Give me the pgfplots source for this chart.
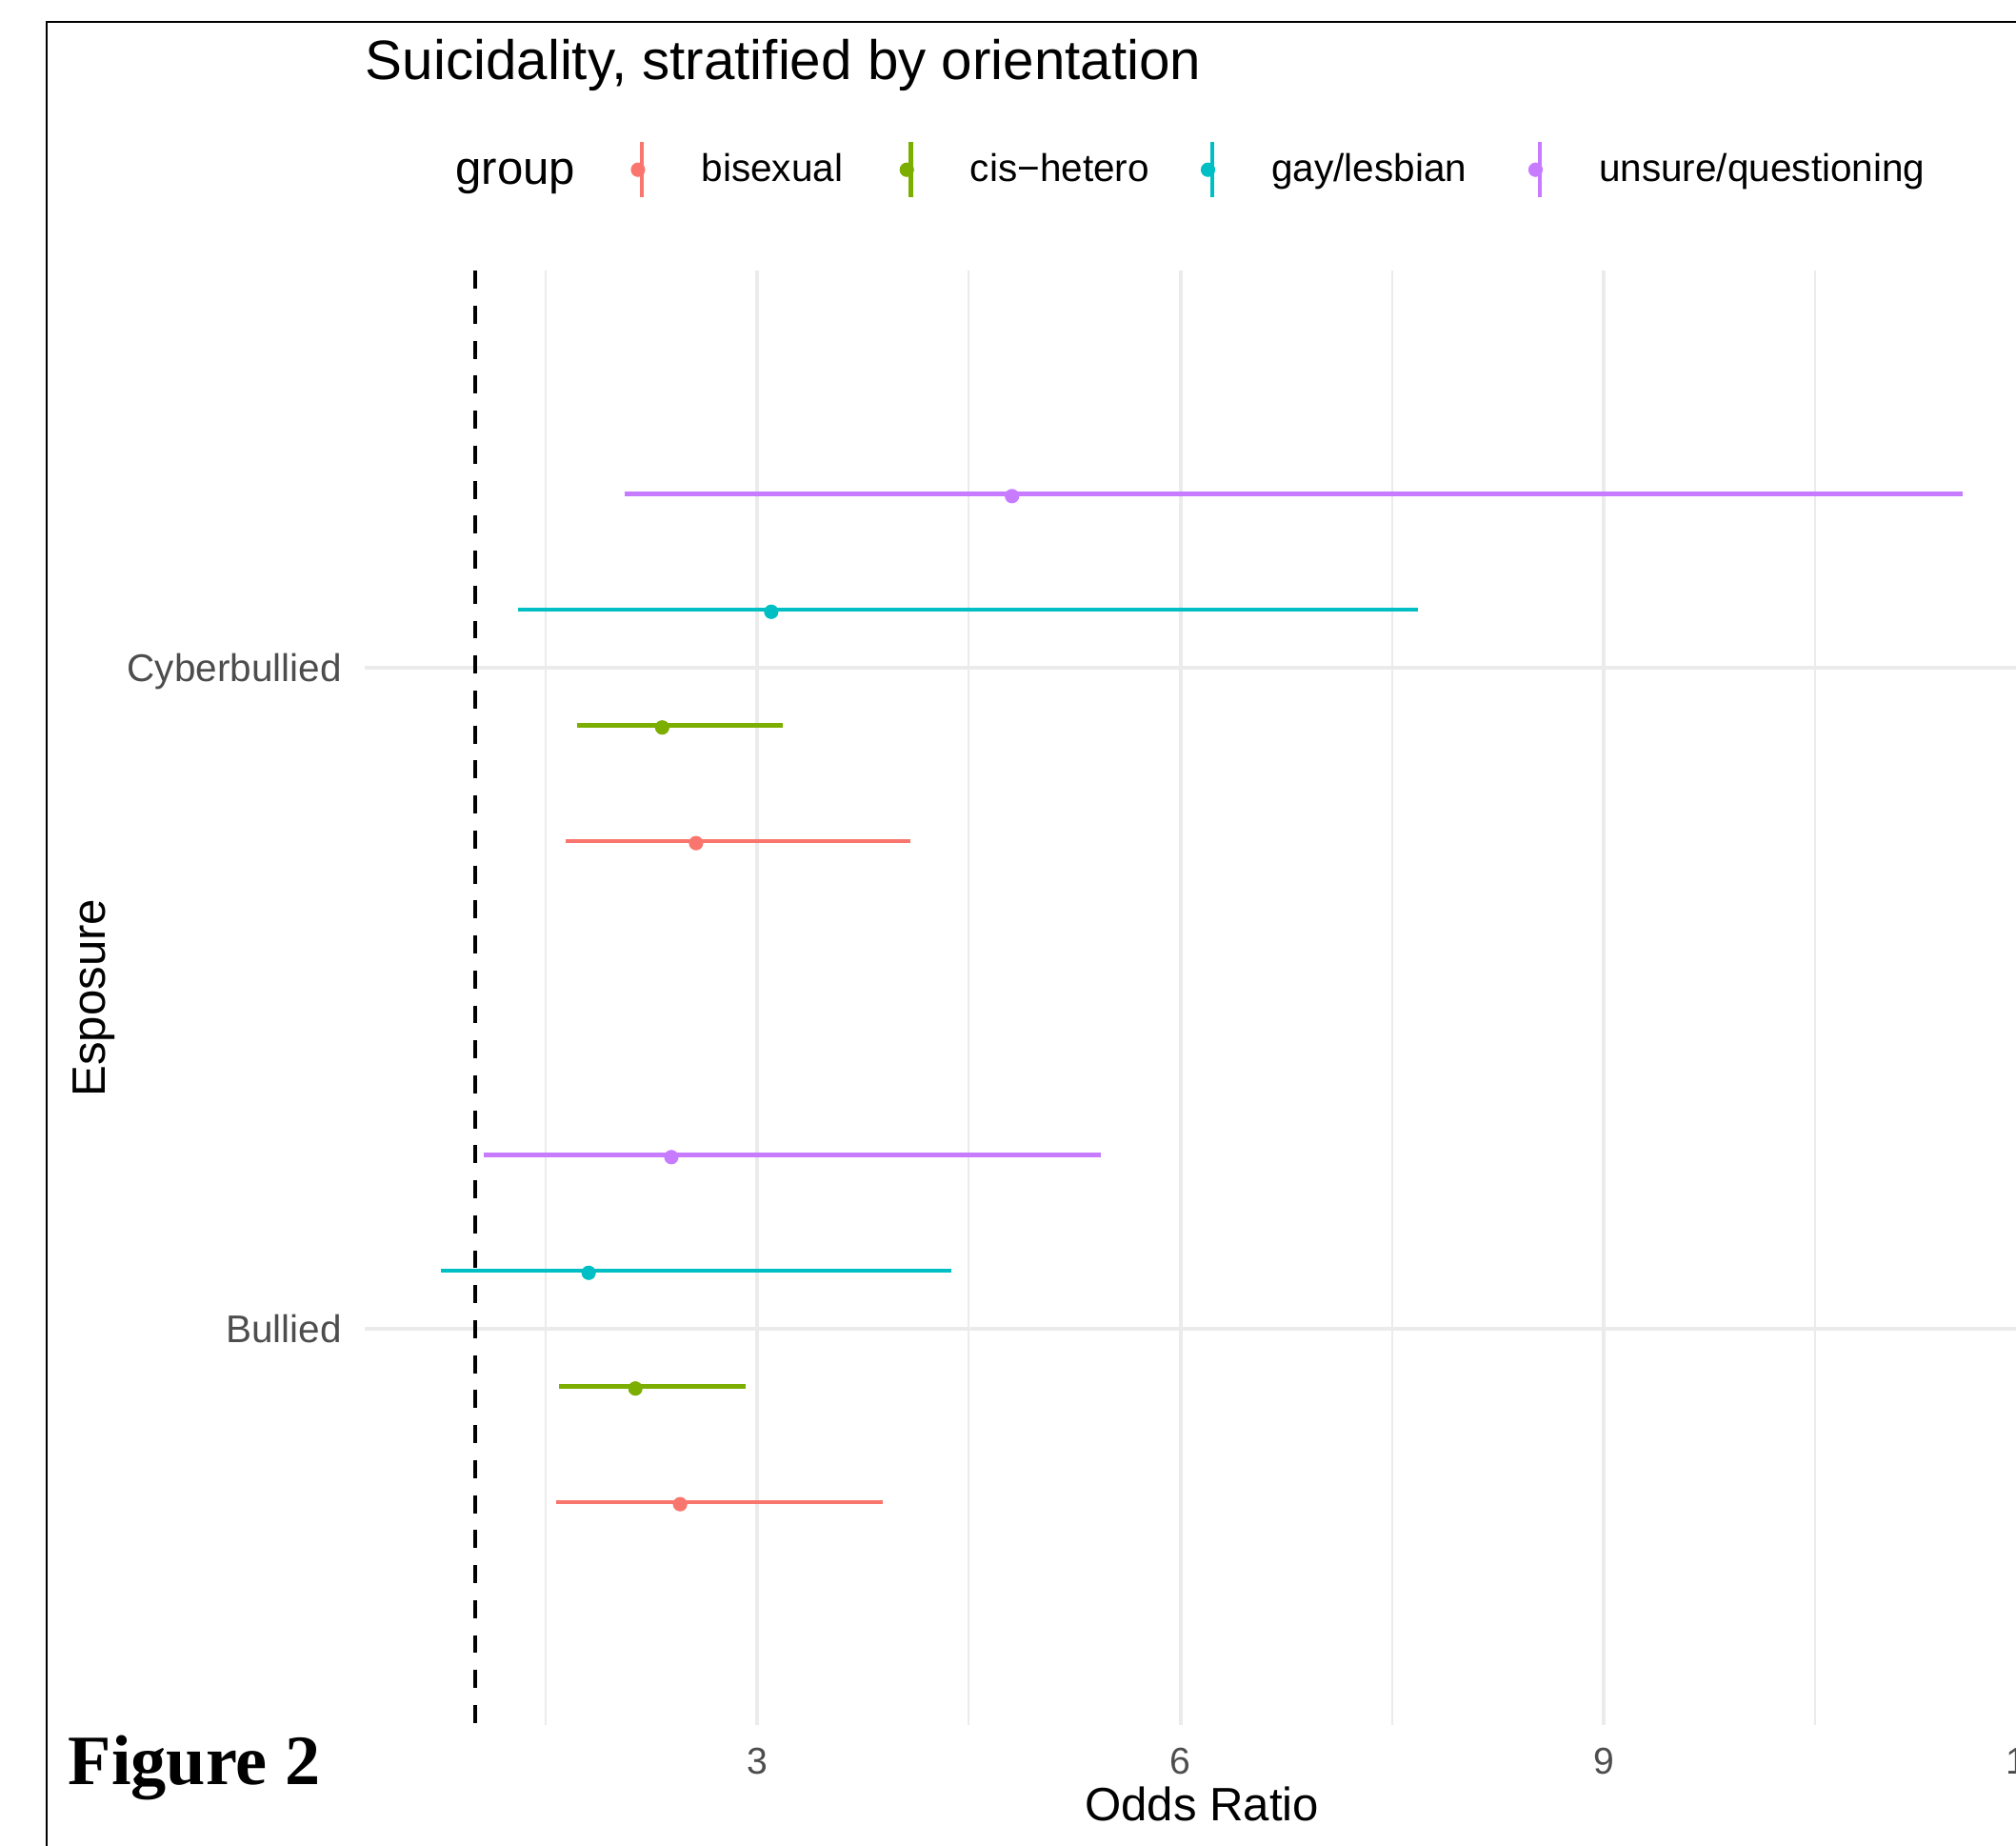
\documentclass[border=0pt]{standalone}
\usepackage{pgfplots}
\usepackage{pgfplotstable}
\pgfplotsset{compat=1.18}
\usepackage{fontspec}
\setmainfont{Liberation Sans}
\newfontfamily\figfont{Liberation Serif}
\definecolor{cBi}{HTML}{F8766D}
\definecolor{cCis}{HTML}{7CAE00}
\definecolor{cGay}{HTML}{00BFC4}
\definecolor{cUns}{HTML}{C77CFF}
\definecolor{gridc}{HTML}{EBEBEB}
\definecolor{tickc}{HTML}{4D4D4D}

% pos = category (1 = Bullied, 2 = Cyberbullied) + dodge offset
\pgfplotstableread{
pos or lo hi
0.7375 2.454 1.574 3.893
1.7375 2.567 1.642 4.088
}\bisexual
\pgfplotstableread{
pos or lo hi
0.9125 2.137 1.597 2.915
1.9125 2.327 1.724 3.184
}\cishetero
\pgfplotstableread{
pos or lo hi
1.0875 1.806 0.760 4.377
2.0875 3.100 1.306 7.685
}\gaylesbian
\pgfplotstableread{
pos or lo hi
1.2625 2.392 1.061 5.437
2.2625 4.806 2.063 11.545
}\unsure

\pgfplotsset{
  keyimg/.style={legend image code/.code={
      \path[draw=none,fill=none] (0pt,-11pt) rectangle (30pt,11pt);
      \fill (5.3pt,0pt) circle (2.6pt);
      \draw[line width=1.6pt] (6.9pt,-10.8pt) -- (6.9pt,10.8pt);
  }},
  orplot/.style={only marks, mark=*, mark size=2.6pt, color=#1, forget plot,
      mark options={yshift=-0.85pt},
      error bars/.cd, x dir=both, x explicit, error mark=none,
      error bar style={line width=1.6pt, color=#1}},
}

\begin{document}
\begin{tikzpicture}
\useasboundingbox (0,0) rectangle (784pt,717.5pt);
\clip (0,0) rectangle (784pt,717.5pt);
\draw[line width=0.8pt] (18.15pt,-5pt) -- (18.15pt,708.85pt) -- (790pt,708.85pt);
\begin{axis}[
  at={(141.95pt,46.8pt)}, anchor=south west,
  width=651pt, height=565.4pt, scale only axis,
  xmin=0.221, xmax=12.084, ymin=0.4, ymax=2.6,
  axis line style={draw=none}, tick style={draw=none},
  xtick={3,6,9,12}, minor xtick={1.5,4.5,7.5,10.5},
  ytick={1,2}, yticklabels={Bullied,Cyberbullied},
  xmajorgrids, xminorgrids, ymajorgrids,
  major grid style={gridc, line width=1.45pt},
  minor grid style={gridc, line width=0.75pt},
  /pgf/number format/assume math mode=true,
  xticklabel style={font=\fontsize{14.5}{17}\selectfont, text=tickc, anchor=base, yshift=-19pt, inner sep=0pt},
  yticklabel style={font=\fontsize{15}{18}\selectfont, text=tickc, anchor=base east, inner sep=0pt, xshift=-8.85pt, yshift=-5.37pt},
  title={Suicidality, stratified by orientation},
  title style={at={(axis description cs:0,1.13168)}, anchor=base west, yshift=-6pt, font=\fontsize{21.6}{26}\selectfont, inner sep=0pt},
  xlabel={Odds Ratio},
  xlabel style={at={(axis description cs:0.5,-0.06597)}, anchor=base, font=\fontsize{18.2}{22}\selectfont, inner sep=0pt},
  ylabel={Esposure},
  ylabel style={at={(axis description cs:-0.15502,0.5)}, anchor=base, font=\fontsize{18.2}{22}\selectfont, inner sep=0pt},
  legend columns=-1,
  legend cell align=left,
  legend style={at={(axis description cs:0.05424,1.0695)}, anchor=west, draw=none, fill=none,
     inner sep=0pt, outer sep=0pt, font=\fontsize{15}{18}\selectfont,
     nodes={inner sep=0pt},
     /tikz/column 2/.append style={column sep=19pt},
     /tikz/column 4/.append style={column sep=19.5pt},
     /tikz/column 6/.append style={column sep=17.5pt},
     /tikz/column 8/.append style={column sep=21.5pt}},
]
\addplot[black, line width=1.45pt, dash pattern=on 7pt off 6.6pt, forget plot] coordinates {(1,2.6) (1,0.4)};

\addplot[orplot=cBi] table[x=or, y=pos, x error plus expr=\thisrow{hi}-\thisrow{or}, x error minus expr=\thisrow{or}-\thisrow{lo}] {\bisexual};
\addplot[orplot=cCis] table[x=or, y=pos, x error plus expr=\thisrow{hi}-\thisrow{or}, x error minus expr=\thisrow{or}-\thisrow{lo}] {\cishetero};
\addplot[orplot=cGay] table[x=or, y=pos, x error plus expr=\thisrow{hi}-\thisrow{or}, x error minus expr=\thisrow{or}-\thisrow{lo}] {\gaylesbian};
\addplot[orplot=cUns] table[x=or, y=pos, x error plus expr=\thisrow{hi}-\thisrow{or}, x error minus expr=\thisrow{or}-\thisrow{lo}] {\unsure};

\addlegendimage{empty legend}
\addlegendentry{\fontsize{18.2}{22}\selectfont\raisebox{-1.5pt}[\height][\depth]{group}}
\addlegendimage{keyimg, color=cBi}
\addlegendentry{bisexual}
\addlegendimage{keyimg, color=cCis}
\addlegendentry{cis−hetero}
\addlegendimage{keyimg, color=cGay}
\addlegendentry{gay/lesbian}
\addlegendimage{keyimg, color=cUns}
\addlegendentry{unsure/questioning}
\end{axis}
\node[anchor=base west, inner sep=0pt, font=\figfont\bfseries\fontsize{27.5}{30}\selectfont] at (26.35pt,23.7pt) {Figure 2};
\end{tikzpicture}
\end{document}
